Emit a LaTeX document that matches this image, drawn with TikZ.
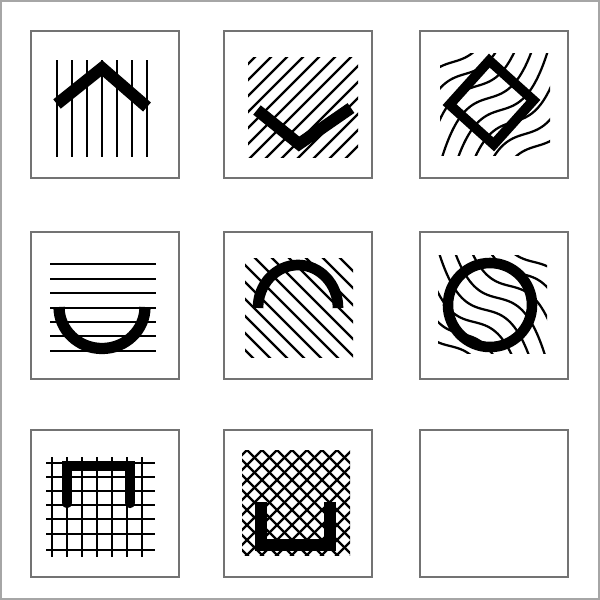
\documentclass[tikz,border=0pt]{standalone}
\usepackage{tikz}
\usetikzlibrary{calc}

\begin{document}
\begin{tikzpicture}[x=0.025cm,y=-0.025cm,
                    panel/.style={draw=black!55,line width=0.8pt,fill=white},
                    hatch/.style={line width=1.6pt},
                    bold/.style={line width=8pt,line join=miter,miter limit=10}]
                    \useasboundingbox (0,0) rectangle (600,600);
                    \draw[black!35,line width=1.2pt,fill=white] (0.8,0.8) rectangle (599.2,599.2);
                    \foreach \px/\py in {31/31,224/31,420/31,31/232,224/232,420/232,31/430,224/430,420/430}
                        \draw[panel] (\px,\py) rectangle ++(148,147);
                    \begin{scope}
                        \foreach \x in {57,72,...,147}
                            \draw[hatch] (\x,60) -- (\x,157);
                        \draw[bold,line width=8.5pt] (57,104) -- (102,68) -- (147,107);
                    \end{scope}
                    \begin{scope}
                        \clip (248,57) rectangle (358,157);
                        \foreach \s in {136,152,...,368}
                            \draw[hatch] (\s,160) -- ++(110,-110);
                    \end{scope}
                    \draw[bold,line width=8.5pt] (257,110) -- (299,144) -- (351,108);
                    \begin{scope}
                        \clip (440,53) rectangle (550,155);
                        \foreach \c in {-66,-54,...,66}
                            \draw[hatch,domain=-62:62,samples=60,smooth]
                            plot ({495+\x},{104-(-(\c)+28*((\x-(\c))/40)^3+0.3*(\x-(\c)))});
                    \end{scope}
                    \draw[bold,line width=7pt] (489.3,60.6) -- (533.4,100.3) -- (493.7,144.4) -- (449.6,104.7) -- cycle;
                    \begin{scope}
                        \foreach \y in {264,279,293,308,322,336,351}
                            \draw[hatch] (50,\y) -- (156,\y);
                        \draw[bold] (59,307) arc[start angle=180,end angle=0,x radius=43,y radius=41.5];
                    \end{scope}
                    \begin{scope}
                        \clip (245,258) rectangle (353,357);
                        \foreach \s in {128,145,...,362}
                            \draw[hatch] (\s,250) -- ++(115,115);
                    \end{scope}
                    \draw[bold,line width=7.6pt] (258,308) arc[start angle=180,end angle=360,x radius=40,y radius=43];
                    \begin{scope}
                        \clip (438,255) rectangle (547,353);
                        \foreach \c in {-66,-54,...,66}
                            \draw[hatch,domain=-62:62,samples=60,smooth]
                            plot ({492+\x},{304-((\c)-28*((\x-(\c))/40)^3-0.25*(\x-(\c)))});
                    \end{scope}
                    \draw[bold,line width=7.5pt] (490,305) circle[radius=1.05cm];
                    \begin{scope}
                        \foreach \x in {52,67,...,142}
                            \draw[hatch] (\x,457) -- (\x,557);
                        \foreach \y in {463,477,491,505,519,534,550}
                            \draw[hatch] (46,\y) -- (155,\y);
                        \draw[bold,line width=7.4pt,line cap=round] (67,503) -- (67,466) -- (130,466) -- (130,503);
                    \end{scope}
                    \begin{scope}
                        \clip (242,450) rectangle (350,555);
                        \foreach \s in {122,137,...,362} {
                            \draw[hatch] (\s,445) -- ++(115,115);
                            \draw[hatch] (\s,560) -- ++(115,-115);
                        }
                    \end{scope}
                    \draw[bold] (261,502) -- (261,545) -- (330,545) -- (330,502);
                \end{tikzpicture}
\end{document}
